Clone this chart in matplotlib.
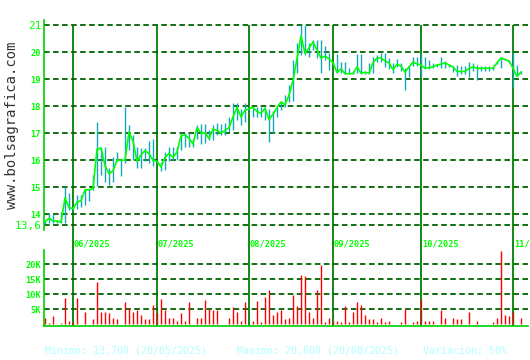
import matplotlib
matplotlib.use('Agg')
import matplotlib.pyplot as plt
import matplotlib.transforms as mtransforms
import numpy as np
import pandas as pd

plt.rcParams['lines.scale_dashes'] = False

# trading days shown in the chart
dates = pd.bdate_range('2025-05-22', periods=120)

close = [13.72, 13.85, 13.75, 13.75, 13.70, 14.60, 14.25, 14.20, 14.45, 14.50,
         14.90, 14.90, 14.95, 16.40, 16.45, 15.80, 15.50, 15.60, 16.00, 16.00,
         16.00, 17.05, 16.70, 15.95, 16.20, 16.35, 16.25, 16.00, 15.95, 15.75,
         16.10, 16.25, 16.10, 16.30, 16.90, 16.93, 16.80, 16.60, 17.20, 17.00,
         17.00, 16.80, 17.15, 17.10, 17.00, 17.10, 17.20, 17.60, 17.95, 17.60,
         17.85, 17.90, 17.95, 17.80, 17.73, 17.92, 17.50, 17.70, 17.95, 18.15,
         18.05, 18.40, 18.95, 19.75, 20.60, 19.95, 20.15, 20.37, 20.07, 19.78,
         19.85, 19.75, 19.60, 19.25, 19.38, 19.20, 19.20, 19.20, 19.45, 19.22,
         19.25, 19.22, 19.60, 19.78, 19.78, 19.67, 19.60, 19.35, 19.55, 19.48,
         19.25, 19.45, 19.63, 19.56, 19.52, 19.40, 19.42, 19.45, 19.52, 19.55,
         19.60, 19.52, 19.45, 19.28, 19.28, 19.28, 19.40, 19.45, 19.40, 19.40,
         19.40, 19.40, 19.40, 19.60, 19.78, 19.72, 19.67, 19.40, 19.10, 19.26]

high = [13.75, 14.00, 14.00, 13.78, 14.07, 15.00, 14.80, 14.30, 14.70, 14.70,
        14.90, 14.95, 15.45, 17.40, 16.50, 16.50, 15.70, 16.10, 16.30, 16.05,
        17.95, 17.30, 16.93, 16.50, 16.45, 16.45, 16.70, 16.80, 16.00, 15.93,
        16.30, 16.50, 16.50, 16.50, 17.00, 17.00, 17.00, 16.80, 17.30, 17.35,
        17.35, 17.10, 17.30, 17.37, 17.35, 17.37, 17.60, 18.10, 18.10, 17.90,
        18.10, 17.95, 17.97, 17.95, 17.95, 17.97, 17.90, 17.80, 17.95, 18.20,
        18.40, 18.78, 19.70, 20.33, 21.00, 21.00, 20.33, 20.45, 20.45, 20.45,
        20.22, 19.96, 19.65, 19.92, 19.63, 19.63, 19.40, 19.30, 19.92, 19.92,
        19.30, 19.60, 19.80, 19.90, 19.96, 19.96, 19.78, 19.60, 19.74, 19.60,
        19.40, 19.48, 19.80, 19.80, 19.96, 19.80, 19.70, 19.60, 19.55, 19.80,
        19.65, 19.55, 19.50, 19.52, 19.50, 19.50, 19.63, 19.60, 19.52, 19.50,
        19.50, 19.50, 19.50, 19.67, 19.80, 19.78, 19.70, 20.00, 19.52, 19.30]

low = [13.65, 13.67, 13.67, 13.67, 13.67, 13.67, 14.15, 14.15, 14.20, 14.25,
       14.33, 14.50, 14.90, 15.05, 15.45, 15.20, 15.07, 15.20, 15.95, 15.40,
       15.90, 16.37, 16.00, 15.70, 15.70, 15.95, 15.90, 15.80, 15.90, 15.60,
       15.63, 15.95, 16.00, 16.00, 16.37, 16.50, 16.50, 16.50, 16.80, 16.60,
       16.65, 16.75, 16.75, 16.93, 16.93, 16.93, 17.04, 17.10, 17.50, 17.30,
       17.40, 17.85, 17.60, 17.60, 17.60, 17.50, 16.67, 17.00, 17.60, 17.85,
       17.96, 18.15, 18.20, 19.22, 19.90, 19.90, 19.80, 20.07, 19.78, 19.22,
       19.70, 19.33, 19.55, 19.22, 19.22, 19.18, 19.18, 19.18, 19.22, 19.20,
       19.20, 19.20, 19.22, 19.63, 19.63, 19.45, 19.37, 19.22, 19.45, 19.30,
       18.60, 19.07, 19.48, 19.48, 19.07, 19.37, 19.37, 19.40, 19.45, 19.40,
       19.40, 19.45, 19.25, 19.10, 19.20, 19.20, 19.07, 19.30, 18.96, 19.30,
       19.30, 19.30, 19.35, 19.55, 19.40, 19.70, 19.60, 18.70, 19.10, 19.20]

volume = [2100, 450, 2700, 300, 500, 8700, 1000, 800, 8700, 300,
          4000, 300, 1700, 14000, 4300, 4000, 3700, 2300, 1700, 300,
          7300, 5400, 4000, 4700, 3000, 1700, 1700, 6300, 3700, 8300,
          4700, 2000, 2000, 1300, 3700, 1300, 7300, 300, 2000, 2000,
          8000, 5300, 4700, 4700, 300, 300, 2000, 5700, 4000, 1300,
          7300, 300, 1300, 7700, 700, 9000, 11300, 3300, 4300, 4700,
          1700, 2000, 9900, 6000, 16300, 16000, 4000, 2000, 11300, 19700,
          700, 2300, 1000, 1300, 700, 6000, 700, 4000, 7300, 6300,
          3000, 1700, 1700, 700, 2300, 700, 1000, 300, 300, 700,
          5300, 300, 700, 1000, 8300, 1000, 1300, 1000, 300, 4700,
          2300, 200, 2300, 1700, 1700, 300, 4300, 200, 1300, 200,
          200, 100, 700, 2000, 24500, 3000, 2700, 4000, 100, 2000]

price_ticks = [13.6, 14, 15, 16, 17, 18, 19, 20, 21]
price_labels = ['13,6', '14', '15', '16', '17', '18', '19', '20', '21']
vol_ticks = [5000, 10000, 15000, 20000]
vol_labels = ['5K', '10K', '15K', '20K']

GRID = '#006400'
MONTH = '#008000'
AXIS = '#00d000'
LABEL = '#00ff00'
LINE = '#00ff00'
HL = '#12aabb'
VOL = '#ff0000'
INFO = '#b0ffff'
MONO = 'DejaVu Sans Mono'

W, H = 530, 360
fig = plt.figure(figsize=(W / 100, H / 100), dpi=100)


def px_axes(x0, y0, x1, y1):
    return fig.add_axes([x0 / W, 1 - y1 / H, (x1 - x0) / W, (y1 - y0) / H])


bg = px_axes(44, 25, 528, 326)
ax = px_axes(44, 20, 528, 230)
axv = px_axes(44, 250, 528, 326)

xs = np.arange(len(close))
xlim = (-0.25, 120.75)

# month separators running through both panels
month_idx = [i for i in range(1, len(dates)) if dates[i].month != dates[i - 1].month]
bg.set_xlim(*xlim)
bg.set_ylim(0, 1)
bg.axis('off')
bg.vlines(month_idx, 0, 1, color=MONTH, lw=1.3)
trans = mtransforms.blended_transform_factory(bg.transData, bg.transAxes)
for i in month_idx:
    bg.text(i + 0.2, (326 - 244) / 301, dates[i].strftime('%m/%Y'), transform=trans,
            color=LABEL, fontsize=6.2, family=MONO, fontweight='bold',
            ha='left', va='center', clip_on=False)

# price panel
for a in (ax, axv):
    a.patch.set_alpha(0)
    a.set_xlim(*xlim)
    a.set_xticks([])
    for s in ('top', 'right', 'bottom'):
        a.spines[s].set_visible(False)
    a.spines['left'].set_color(AXIS)
    a.spines['left'].set_linewidth(1.2)
    a.tick_params(axis='y', length=0, pad=2)

ax.set_ylim(13.415, 21.185)
for t in price_ticks:
    ax.axhline(t, color=GRID, lw=1.3, linestyle=(0, (4, 2.5)), zorder=1)
ax.vlines(xs, low, high, color=HL, lw=1.0, zorder=2)
ax.plot(xs, close, color=LINE, lw=1.2, zorder=3)
ax.set_yticks(price_ticks)
ax.set_yticklabels(price_labels, family=MONO, color=LABEL)
for lab, t in zip(ax.get_yticklabels(), price_ticks):
    if t in (price_ticks[0], price_ticks[-1]):
        lab.set_fontsize(8)
    else:
        lab.set_fontsize(6.2)
        lab.set_fontweight('bold')

# volume panel
axv.set_ylim(-500, 24700)
axv.spines['bottom'].set_visible(True)
axv.spines['bottom'].set_color(AXIS)
axv.spines['bottom'].set_linewidth(1.2)
for t in vol_ticks:
    axv.axhline(t, color=GRID, lw=1.3, linestyle=(0, (4, 2.5)), zorder=1)
axv.vlines(xs, 0, volume, color=VOL, lw=1.0, zorder=2)
axv.set_yticks(vol_ticks)
axv.set_yticklabels(vol_labels, family=MONO, color=LABEL, fontsize=6.2, fontweight='bold')

# footer and watermark
i_min = int(np.argmin(close))
i_max = int(np.argmax(close))
var = round((close[i_max] - close[i_min]) / close[i_min] * 100)
info = ('Minimo: %s (%s)     Maximo: %s (%s)    Variación: %d%%' % (
    f'{close[i_min]:.3f}'.replace('.', ','), dates[i_min].strftime('%d/%m/%Y'),
    f'{close[i_max]:.3f}'.replace('.', ','), dates[i_max].strftime('%d/%m/%Y'), var))
fig.text(45 / W, 1 - 351 / H, info, family=MONO, fontsize=7.1, color=INFO,
         ha='left', va='center')
fig.text(12 / W, 1 - 125 / H, 'www.bolsagrafica.com', rotation=90, family=MONO,
         fontsize=10, color='#333333', ha='center', va='center')

fig.savefig('out.png', dpi=100, facecolor='white')
